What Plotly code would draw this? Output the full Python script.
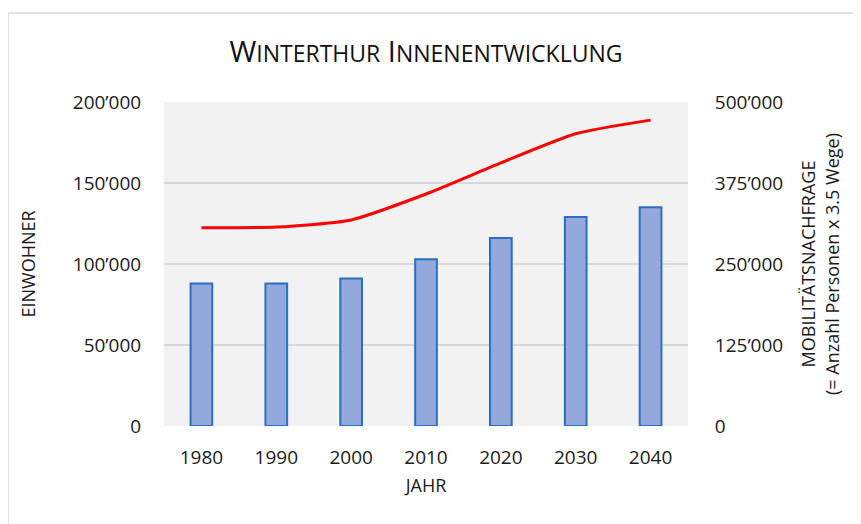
import plotly.graph_objects as go

years = ["1980", "1990", "2000", "2010", "2020", "2030", "2040"]
einwohner = [88000, 88000, 91000, 103000, 116000, 129000, 135000]
mobilitaet = [306000, 307000, 318000, 358000, 406000, 451000, 472000]

left_ticks = [0, 50000, 100000, 150000, 200000]
left_labels = ["0", "50’000", "100’000", "150’000", "200’000"]
right_ticks = [0, 125000, 250000, 375000, 500000]
right_labels = ["0", "125’000", "250’000", "375’000", "500’000"]

font_family = "Open Sans, Lato, sans-serif"

W, H = 853, 516
L, T, PW, PH = 156, 94, 524, 324

fig = go.Figure()
fig.add_trace(go.Bar(
    x=years, y=einwohner, width=0.29,
    marker=dict(color="#93a9de", line=dict(color="#2a6fc0", width=2)),
    yaxis="y", showlegend=False,
))
fig.add_trace(go.Scatter(
    x=years, y=mobilitaet, mode="lines",
    line=dict(color="#ff0000", width=3, shape="spline", smoothing=0.6),
    yaxis="y2", showlegend=False,
))

def small_caps(text, big=29, small=23):
    out = []
    for word in text.split(" "):
        out.append(f"<span style='font-size:{big}px'>{word[0]}</span><span style='font-size:{small}px'>{word[1:]}</span>")
    return " ".join(out)

clear = "rgba(0,0,0,0)"
fig.update_layout(
    width=W, height=H,
    margin=dict(l=L, r=W - L - PW, t=T, b=H - T - PH),
    paper_bgcolor="white",
    plot_bgcolor="#f2f2f2",
    font=dict(family=font_family, color="#1a1a1a", size=19),
    title=dict(text=small_caps("WINTERTHUR INNENENTWICKLUNG"), x=0.5, xanchor="center",
               xref="paper", y=1 - 44 / H, yanchor="middle", font=dict(size=29, color="#111111")),
    xaxis=dict(type="category", showgrid=False, zeroline=False, showline=False,
               ticks="outside", ticklen=14, tickcolor=clear,
               title=dict(text="JAHR", font=dict(size=18), standoff=10),
               tickfont=dict(size=19)),
    yaxis=dict(range=[0, 200000], tickvals=left_ticks, ticktext=left_labels,
               showgrid=True, gridcolor="#d9d9d9", gridwidth=1.5, zeroline=False,
               showline=False, ticks="outside", ticklen=18, tickcolor=clear,
               tickfont=dict(size=19),
               title=dict(text="EINWOHNER", font=dict(size=18), standoff=32)),
    yaxis2=dict(range=[0, 500000], tickvals=right_ticks, ticktext=right_labels,
                overlaying="y", side="right", showgrid=False, zeroline=False,
                showline=False, ticks="outside", ticklen=22, tickcolor=clear,
                tickfont=dict(size=19),
                title=dict(text="MOBILITÄTSNACHFRAGE<br>(= Anzahl Personen x 3.5 Wege)",
                           font=dict(size=18), standoff=20)),
)

fig.add_shape(type="rect", xref="paper", yref="paper",
              x0=-L / PW, x1=(849 - L) / PW, y0=-(H - T - PH + 10) / PH, y1=1 + (T - 5) / PH,
              line=dict(color="#d9d9d9", width=1.5), fillcolor=clear, layer="below")

fig.write_html("out.html")
